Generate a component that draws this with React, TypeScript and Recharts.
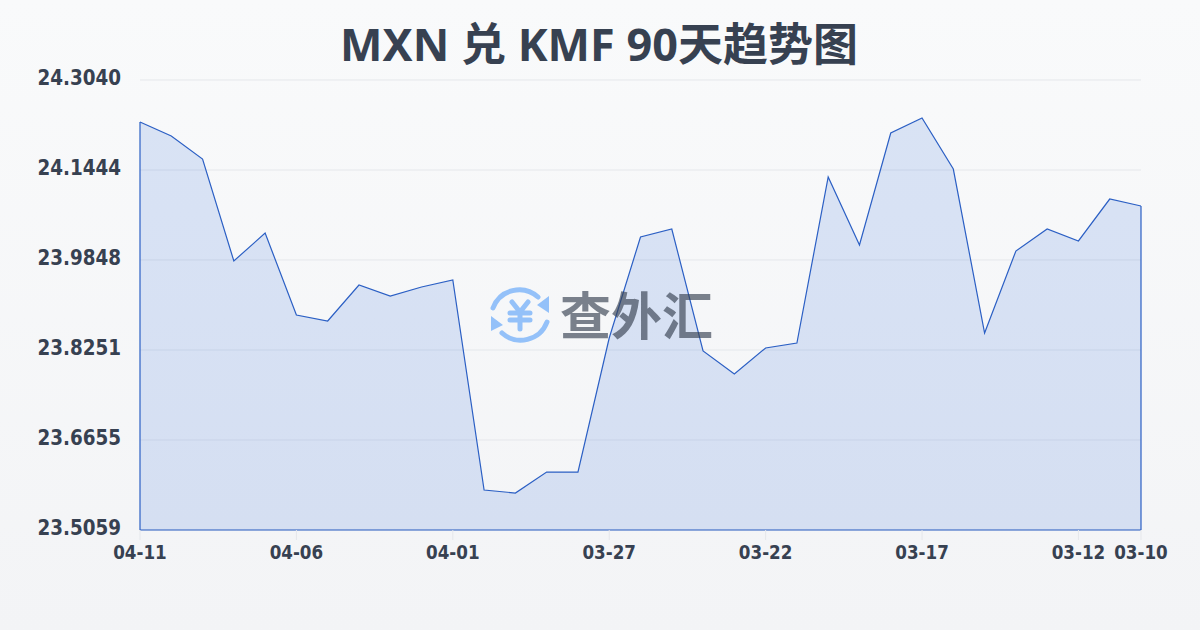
import { AreaChart, Area, XAxis, YAxis, CartesianGrid, ReferenceLine } from 'recharts';

const dates = [
  '04-11', '04-10', '04-09', '04-08', '04-07', '04-06', '04-05', '04-04', '04-03', '04-02', '04-01',
  '03-31', '03-30', '03-29', '03-28', '03-27', '03-26', '03-25', '03-24', '03-23', '03-22',
  '03-21', '03-20', '03-19', '03-18', '03-17', '03-16', '03-15', '03-14', '03-13', '03-12', '03-11', '03-10',
];
const rates = [
  24.2295, 24.2047, 24.1639, 23.983, 24.0326, 23.8872, 23.8766, 23.9404, 23.9209, 23.9369, 23.9493,
  23.5768, 23.5715, 23.6087, 23.6087, 23.8464, 24.0255, 24.0397, 23.8234, 23.7826, 23.8287,
  23.8375, 24.132, 24.0114, 24.21, 24.2366, 24.1461, 23.8553, 24.0007, 24.0397, 24.0185, 24.0929, 24.0805,
];
const xTicks = ['04-11', '04-06', '04-01', '03-27', '03-22', '03-17', '03-12', '03-10'];
const yTicks = [23.5059, 23.6655, 23.8251, 23.9848, 24.1444, 24.304];

const chartData = dates.map((date, i) => ({ date, rate: rates[i] }));

const FONT = "'Noto Sans', 'Noto Sans CJK SC', sans-serif";
const TICK_FONT = "'DejaVu Sans Condensed', 'DejaVu Sans', sans-serif";
const INK = '#374151';
const BLUE = '#2b5fc4';
const yMin = yTicks[0];
const yMax = yTicks[yTicks.length - 1];
const firstDate = dates[0];
const lastDate = dates[dates.length - 1];

// sits above the chart, the line shows through it
function Watermark() {
  return (
    <div style={{ position: 'absolute', left: 488, top: 284, width: 230, height: 62, opacity: 0.65 }}>
      <svg width={64} height={62} viewBox="0 0 64 62" style={{ position: 'absolute', left: 0, top: 0 }}>
        <g fill="none" stroke="#60a5fa" strokeWidth={5} strokeLinecap="round">
          <path d="M5 24 A28 28 0 0 1 50 13" />
          <path d="M59 38 A28 28 0 0 1 14 49" />
          <path d="M24 18 L32 28 L40 18 M22 29 H42 M22 36 H42 M32 28 V45" />
        </g>
        <path d="M49 21 L61 12 L61 29 Z M15 41 L3 32 L3 47 Z" fill="#60a5fa" />
      </svg>
      <span style={{ position: 'absolute', left: 72, top: -2, fontFamily: FONT, fontWeight: 700, fontSize: 51, lineHeight: '66px', color: INK }}>查外汇</span>
    </div>
  );
}

export default function App() {
  return (
    <div style={{ position: 'absolute', left: 0, top: 0, width: 1200, height: 630, overflow: 'hidden', background: 'linear-gradient(180deg, #f9fafb 0%, #f3f4f6 100%)' }}>
      <div style={{ position: 'absolute', left: -1, top: 12, width: 1200, textAlign: 'center', fontFamily: FONT, fontWeight: 700, fontSize: 45, lineHeight: '64px', color: INK }}>
        MXN 兑 KMF 90天趋势图
      </div>
      <div style={{ position: 'absolute', left: 0, top: 0 }}>
        <AreaChart width={1200} height={630} data={chartData} margin={{ top: 80, right: 59, bottom: 0, left: 0 }}>
          <CartesianGrid vertical={false} stroke="#e5e7eb" strokeWidth={1} />
          <XAxis
            dataKey="date"
            ticks={xTicks}
            interval={0}
            height={100}
            axisLine={false}
            tickSize={10}
            tickLine={{ stroke: '#e5e7eb' }}
            tickMargin={6}
            tick={{ fill: INK, fontSize: 18.6, fontWeight: 700, fontFamily: TICK_FONT }}
          />
          <YAxis
            width={140}
            domain={[yMin, yMax]}
            ticks={yTicks}
            interval={0}
            axisLine={false}
            tickLine={false}
            tickSize={0}
            tickMargin={19}
            tickFormatter={(v: number) => v.toFixed(4)}
            tick={{ fill: INK, fontSize: 20.4, fontWeight: 700, fontFamily: TICK_FONT, dy: -2 }}
          />
          <Area type="linear" dataKey="rate" baseValue={yMin} stroke={BLUE} strokeWidth={1.2} fill="#2a62d8" fillOpacity={0.15} isAnimationActive={false} dot={false} activeDot={false} />
          <ReferenceLine segment={[{ x: firstDate, y: yMin }, { x: firstDate, y: rates[0] }]} stroke={BLUE} strokeWidth={1.2} />
          <ReferenceLine segment={[{ x: lastDate, y: yMin }, { x: lastDate, y: rates[rates.length - 1] }]} stroke={BLUE} strokeWidth={1.2} />
          <ReferenceLine segment={[{ x: firstDate, y: yMin }, { x: lastDate, y: yMin }]} stroke={BLUE} strokeWidth={1.2} />
        </AreaChart>
      </div>
      <Watermark />
    </div>
  );
}
